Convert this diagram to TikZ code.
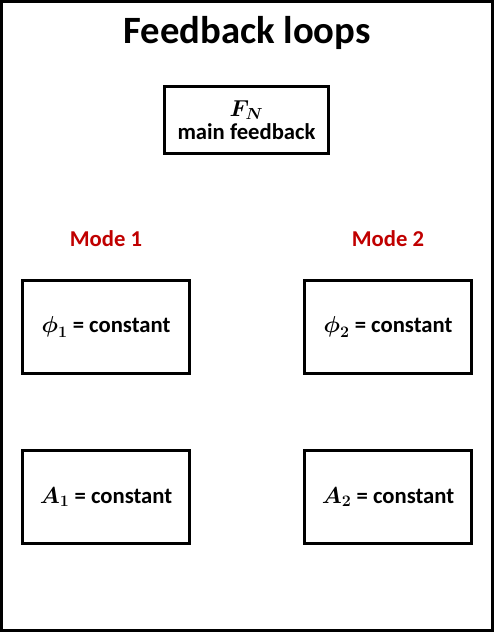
\documentclass[tikz,border=0pt]{standalone}
\usepackage{amsmath}
\usepackage{fontspec}
\setmainfont{Carlito}
\usetikzlibrary{positioning}

\begin{document}
\begin{tikzpicture}[x=0.75pt, y=-0.75pt]
    % Define colours
    \definecolor{borderColour}{HTML}{000000}
    \definecolor{modeColour}{HTML}{C00000}

    % Define styles
    \tikzset{
        loopbox/.style={draw=borderColour, line width=2.25pt, minimum width=125pt, minimum height=70pt, font=\fontsize{17}{20}\selectfont\bfseries\boldmath, align=center},
        modelabel/.style={text=modeColour, font=\fontsize{17}{20}\selectfont\bfseries}
    }

    % Fix the picture size
    \useasboundingbox (0,0) rectangle (494,632);

    % Draw the outer frame
    \draw[borderColour, line width=2.25pt] (1.5,1.5) rectangle (492.5,630.5);

    % Title
    \node[font=\fontsize{29}{34}\selectfont\bfseries] (title) at (247,33) {Feedback loops};

    % Main feedback
    \node[loopbox, minimum width=123pt, minimum height=50pt, font=\fontsize{17}{19}\selectfont\bfseries\boldmath] (main) at (246.5,120) {$\boldsymbol{F_N}$\\[-2pt]main feedback};

    % Mode labels
    \node[modelabel] (modeA) at (106,239) {Mode 1};
    \node[modelabel] (modeB) at (388,239) {Mode 2};

    % Mode 1 boxes
    \node[loopbox] (phiA) at (106,327) {$\boldsymbol{\phi}_1$ = constant};
    \node[loopbox] (ampA) at (106,497) {$A_1$ = constant};

    % Mode 2 boxes
    \node[loopbox] (phiB) at (388,327) {$\boldsymbol{\phi}_2$ = constant};
    \node[loopbox] (ampB) at (388,497) {$A_2$ = constant};

\end{tikzpicture}
\end{document}
